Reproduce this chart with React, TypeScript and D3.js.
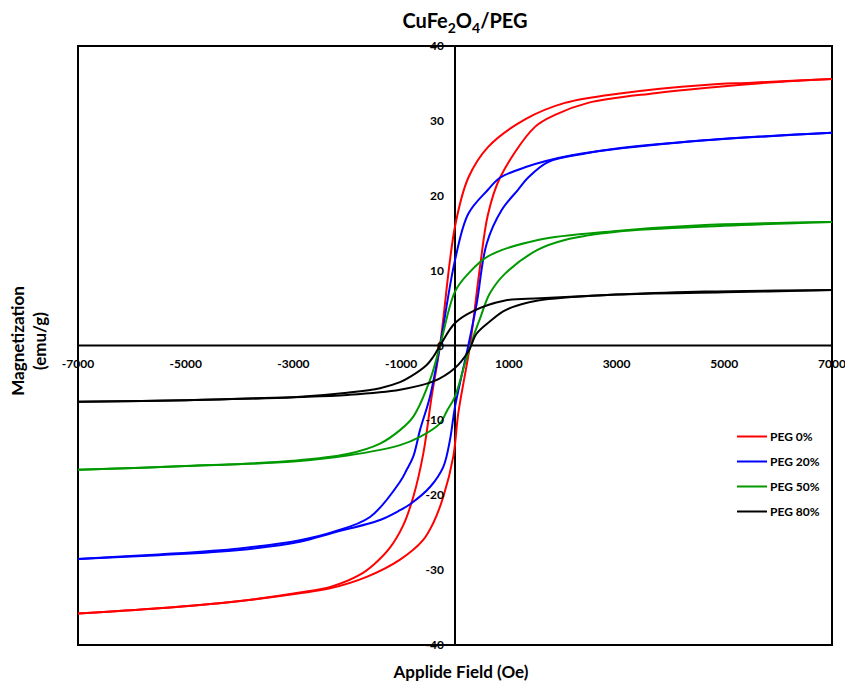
import { scaleLinear, line, curveCatmullRom } from 'd3';

// field (Oe), magnetization (emu/g)
const peg0Up: [number, number][] = [
  [7000, 35.6], [5500, 35.1], [4640, 34.8], [3100, 33.7], [2040, 32.4], [1300, 30.2],
  [612, 26.5], [247, 22.4], [0, 15.9], [-278, 0], [-433, -6.8], [-588, -14.4],
  [-774, -20.2], [-960, -24.0], [-1207, -27.0], [-1500, -29.2], [-1764, -30.6],
  [-2300, -32.2], [-2880, -33.0], [-4200, -34.3], [-5500, -35.1], [-7000, -35.8],
];
const peg0Down: [number, number][] = [
  [-7000, -35.8], [-5500, -35.1], [-4200, -34.3], [-2880, -33.1], [-2300, -32.4],
  [-1640, -30.9], [-1020, -28.6], [-594, -26], [-403, -23.7], [-217, -20.2],
  [-31, -14.8], [62, -9.0], [278, 0], [464, 10.5], [612, 17.5], [835, 22.4],
  [1485, 29.2], [1857, 30.8], [2470, 32.4], [3710, 33.7], [4640, 34.4], [6000, 35.2],
  [7000, 35.6],
];
const peg20Up: [number, number][] = [
  [7000, 28.4], [4640, 27.4], [2170, 25.4], [1300, 23.8], [835, 22.4], [612, 20.8],
  [247, 17.6], [0, 11.4], [-278, 0], [-464, -6.8], [-650, -11.3], [-774, -14.8],
  [-897, -16.6], [-1021, -18.2], [-1578, -22.9], [-2265, -24.9], [-2880, -26.0],
  [-4000, -27.1], [-5500, -27.9], [-7000, -28.5],
];
const peg20Down: [number, number][] = [
  [-7000, -28.5], [-5500, -28.0], [-4000, -27.3], [-2880, -26.2], [-2265, -25.0],
  [-1392, -23.3], [-1021, -22.0], [-835, -21.2], [-464, -18.9], [-217, -16.2],
  [-93, -12.6], [0, -8.2], [247, 0], [403, 5.6], [588, 13.6], [867, 18.1],
  [1170, 20.8], [1355, 22.4], [1727, 24.5], [2470, 25.7], [3000, 26.3], [4640, 27.4],
  [7000, 28.4],
];
const peg50Up: [number, number][] = [
  [7000, 16.5], [4640, 16.1], [3000, 15.3], [1540, 14.1], [612, 11.9], [247, 9.6],
  [0, 7.2], [-278, 0], [-464, -4.6], [-774, -9.5], [-1021, -11.3], [-1392, -13.1],
  [-2000, -14.5], [-3000, -15.4], [-5000, -16.1], [-7000, -16.6],
];
const peg50Down: [number, number][] = [
  [-7000, -16.6], [-5000, -16.1], [-3000, -15.5], [-2000, -14.7], [-1021, -13.3],
  [-650, -12.2], [-278, -10.4], [-155, -8.8], [0, -6.8], [200, -2.0], [300, 0.2],
  [371, 1.8], [464, 3.6], [650, 7.0], [930, 9.6], [1540, 12.8], [2040, 14.1],
  [3000, 15.2], [5000, 16.0], [7000, 16.5],
];
const peg80Up: [number, number][] = [
  [7000, 7.4], [4640, 7.2], [3000, 6.8], [1578, 6.3], [930, 6.0], [310, 4.5],
  [0, 3.0], [-278, 0], [-403, -1.5], [-526, -2.6], [-835, -4.2], [-1021, -4.9],
  [-1392, -5.7], [-2000, -6.3], [-3000, -6.9], [-5000, -7.3], [-7000, -7.5],
];
const peg80Down: [number, number][] = [
  [-7000, -7.5], [-5000, -7.3], [-3000, -6.9], [-2000, -6.6], [-1021, -5.9],
  [-403, -4.8], [0, -3.0], [247, -0.8], [403, 1.6], [680, 3.4], [930, 4.7],
  [1540, 6.0], [3000, 6.8], [5000, 7.1], [7000, 7.4],
];

const seriesNames = ['PEG 0%', 'PEG 20%', 'PEG 50%', 'PEG 80%'];
const seriesColors = ['#ff0000', '#0000ff', '#009a00', '#000000'];
const seriesBranches = [
  [peg0Up, peg0Down],
  [peg20Up, peg20Down],
  [peg50Up, peg50Down],
  [peg80Up, peg80Down],
];

const xTicks = [-7000, -5000, -3000, -1000, 1000, 3000, 5000, 7000];
const yTicks = [40, 30, 20, 10, 0, -10, -20, -30, -40];

const FONT = 'Lato, "Open Sans", sans-serif';

export default function App() {
  const width = 845;
  const height = 682;
  const left = 78;
  const right = 832;
  const top = 46;
  const bottom = 645;

  const x = scaleLinear().domain([-7000, 7000]).range([left, right]);
  const y = scaleLinear().domain([-40, 40]).range([bottom, top]);

  const path = line<[number, number]>()
    .x((d) => x(d[0]))
    .y((d) => y(d[1]))
    .curve(curveCatmullRom.alpha(0.5));

  const sorted = (pts: [number, number][]) => [...pts].sort((a, b) => a[0] - b[0]);

  return (
    <svg
      width={width}
      height={height}
      style={{ position: 'absolute', left: 0, top: 0, background: '#fff' }}
      fontFamily={FONT}
      fontWeight="bold"
    >
      <rect x={0} y={0} width={width} height={height} fill="#fff" />

      {/* title */}
      <text x={465} y={28} textAnchor="middle" fontSize={20}>
        CuFe<tspan fontSize={14} dy={5}>2</tspan>
        <tspan dy={-5}>O</tspan>
        <tspan fontSize={14} dy={5}>4</tspan>
        <tspan dy={-5}>/PEG</tspan>
      </text>

      {/* plot frame */}
      <rect
        x={left}
        y={top}
        width={right - left}
        height={bottom - top}
        fill="none"
        stroke="#000"
        strokeWidth={2}
      />
      <line x1={x(0)} x2={x(0)} y1={top} y2={bottom} stroke="#000" strokeWidth={2} />
      <line x1={left} x2={right} y1={y(0)} y2={y(0)} stroke="#000" strokeWidth={2} />

      {/* loops */}
      {seriesBranches.map((branches, i) =>
        branches.map((b, j) => (
          <path
            key={`${i}-${j}`}
            d={path(sorted(b)) || ''}
            fill="none"
            stroke={seriesColors[i]}
            strokeWidth={2}
            strokeLinejoin="round"
          />
        ))
      )}

      {/* tick labels */}
      {xTicks.map((t) => (
        <text key={`x${t}`} x={x(t)} y={y(0) + 22} textAnchor="middle" fontSize={12}>
          {t}
        </text>
      ))}
      {yTicks.map((t) => (
        <text key={`y${t}`} x={x(0) - 11} y={y(t) + 4} textAnchor="end" fontSize={12}>
          {t}
        </text>
      ))}

      {/* axis titles */}
      <text x={461} y={678} textAnchor="middle" fontSize={17}>
        Applide Field (Oe)
      </text>
      <text transform="translate(24,341) rotate(-90)" textAnchor="middle" fontSize={17}>
        Magnetization
      </text>
      <text transform="translate(46,341) rotate(-90)" textAnchor="middle" fontSize={17}>
        (emu/g)
      </text>

      {/* legend */}
      {seriesNames.map((name, i) => (
        <g key={name} transform={`translate(737, ${436.5 + i * 25})`}>
          <line x1={0} x2={30} y1={0} y2={0} stroke={seriesColors[i]} strokeWidth={2} />
          <text x={33} y={4} fontSize={12}>
            {name}
          </text>
        </g>
      ))}
    </svg>
  );
}
